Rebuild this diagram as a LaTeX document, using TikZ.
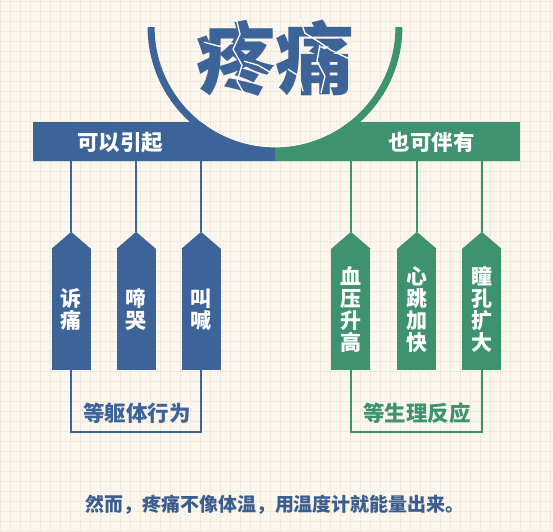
\documentclass[tikz,border=0pt]{standalone}
\usepackage{fontspec}
\setmainfont{Noto Sans CJK SC}
\usetikzlibrary{calc}
\definecolor{bl}{HTML}{3D6499}
\definecolor{gr}{HTML}{3E9270}
\definecolor{txtb}{HTML}{3C5E8E}
\definecolor{bgc}{HTML}{FCF7EE}
\definecolor{gridc}{HTML}{F1E9DC}
\tikzset{
  boxb/.style={fill=bl, minimum width=39pt, minimum height=121pt, inner sep=0pt, text=white, align=center,
    font=\fontsize{21pt}{22pt}\selectfont\bfseries},
  boxg/.style={boxb, fill=gr},
  barlbl/.style={text=white, inner sep=0pt, font=\fontsize{21.5pt}{22pt}\selectfont\bfseries},
  lnb/.style={draw=bl, line width=2pt},
  lng/.style={draw=gr, line width=2pt},
  brk/.style={inner sep=0pt, font=\fontsize{21.5pt}{22pt}\selectfont\bfseries},
  crack/.style={draw=white, line width=1.3pt, line join=round},
}
\begin{document}
\begin{tikzpicture}[x=1pt,y=1pt]
\fill[bgc] (0,0) rectangle (553,531);
\draw[gridc, line width=0.5pt] (0,0) grid[step=10pt] (553,531);
\useasboundingbox (0,0) rectangle (553,531);

% circle centre
\coordinate (C) at (275,504);

% bars with cut-out
\fill[bl] (33,409) -- ($(C)+(232:120.5)$) arc[start angle=232, end angle=270, radius=120.5] -- (275,370) -- (33,370) -- cycle;
\fill[gr] (275,370) -- ($(C)+(270:120.5)$) arc[start angle=270, end angle=308, radius=120.5] -- (520,409) -- (520,370) -- cycle;

% arcs
\draw[bl, line width=7pt] ($(C)+(180:124)$) arc[start angle=180, end angle=270, radius=124];
\draw[gr, line width=7pt] ($(C)+(270:124)$) arc[start angle=270, end angle=360, radius=124];

% title
\node[text=bl, inner sep=0pt, font=\fontsize{79pt}{80pt}\selectfont\bfseries] (title) at (275,473) {疼痛};
\draw[crack] (236,513) -- (240,497) -- (233,482) -- (242,466) -- (237,450) -- (245,436);
\draw[crack] (204,489) -- (219,485) -- (233,488);
\draw[crack] (244,470) -- (258,466) -- (270,459);
\draw[crack] (300,512) -- (305,498) -- (318,490) -- (331,481) -- (350,472);
\draw[crack] (288,462) -- (299,455) -- (303,440);
\draw[crack] (320,486) -- (317,470) -- (325,455) -- (321,438);

% bar labels
\node[barlbl] (lblL) at (120,389) {可以引起};
\node[barlbl] (lblR) at (432,389) {也可伴有};

% bar anchor points
\coordinate (bb1) at (71,370);
\coordinate (bb2) at (136,370);
\coordinate (bb3) at (201,370);
\coordinate (gb1) at (351,370);
\coordinate (gb2) at (417,370);
\coordinate (gb3) at (482,370);

% boxes
\node[boxb] (b1) at (71,221.5) {诉\\痛};
\node[boxb] (b2) at (136,221.5) {啼\\哭};
\node[boxb] (b3) at (201,221.5) {叫\\喊};
\node[boxg] (g1) at (351,221.5) {血\\压\\升\\高};
\node[boxg] (g2) at (417,221.5) {心\\跳\\加\\快};
\node[boxg] (g3) at (482,221.5) {瞳\\孔\\扩\\大};

\foreach \n/\c in {b1/bl,b2/bl,b3/bl,g1/gr,g2/gr,g3/gr}{
  \fill[\c] (\n.north west) -- (\n.north east) -- ($(\n.north)+(0,17)$) -- cycle;
  \coordinate (\n t) at ($(\n.north)+(0,17)$);
}

% connectors from bars
\draw[lnb] (bb1) -- (b1t);
\draw[lnb] (bb2) -- (b2t);
\draw[lnb] (bb3) -- (b3t);
\draw[lng] (gb1) -- (g1t);
\draw[lng] (gb2) -- (g2t);
\draw[lng] (gb3) -- (g3t);

% brackets
\draw[lnb] (b1.south) -- ++(0,-62) -| (b3.south);
\draw[lng] (g1.south) -- ++(0,-62) -| (g3.south);
\node[brk, text=bl] (lbB) at (137,118) {等躯体行为};
\node[brk, text=gr] (lbG) at (417,118) {等生理反应};

% bottom text
\node[text=txtb, inner sep=0pt, font=\fontsize{19pt}{21pt}\selectfont\bfseries] (foot) at (275,26) {然而，疼痛不像体温，用温度计就能量出来。};
\end{tikzpicture}
\end{document}
